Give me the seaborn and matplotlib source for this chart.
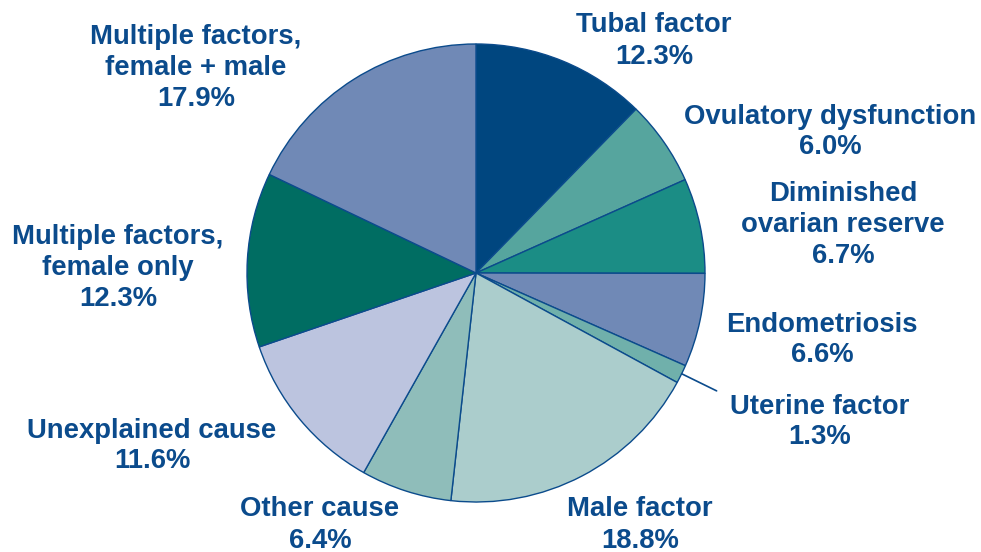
"""
Camembert des causes d'infertilite (pourcentages par diagnostic).
"""

import matplotlib

matplotlib.use("Agg")
import matplotlib.pyplot as plt
import numpy as np
import seaborn as sns

# -- Donnees -------------------------------------------------------------------
causes = [
    "Tubal factor",
    "Ovulatory dysfunction",
    "Diminished\novarian reserve",
    "Endometriosis",
    "Uterine factor",
    "Male factor",
    "Other cause",
    "Unexplained cause",
    "Multiple factors,\nfemale only",
    "Multiple factors,\nfemale + male",
]
percents = [12.3, 6.0, 6.7, 6.6, 1.3, 18.8, 6.4, 11.6, 12.3, 17.9]
colors = [
    "#00467f",
    "#56a59e",
    "#1b8d85",
    "#7089b6",
    "#70b0ab",
    "#abcdcc",
    "#8fbdba",
    "#bcc4df",
    "#006d62",
    "#7089b6",
]

# positions des etiquettes (pixels, origine en bas a gauche)
label_xy = [
    (654, 511),
    (830, 420),
    (843, 327),
    (822, 212),
    (820, 130),
    (640, 27),
    (320, 27),
    (152, 106),
    (118, 284),
    (196, 484),
]

TEXT_COLOR = "#0b4b8c"
EDGE_COLOR = "#0b4b8c"

sns.set_theme(style="white")
plt.rcParams["font.family"] = ["Liberation Sans", "DejaVu Sans"]

W, H = 981, 552
fig = plt.figure(figsize=(W / 100, H / 100), dpi=100)
ax = fig.add_axes([0, 0, 1, 1])

cx, cy, r = 476, 279, 229
ax.pie(
    percents,
    colors=colors,
    startangle=90,
    counterclock=False,
    center=(cx, cy),
    radius=r,
    frame=True,
    wedgeprops={"edgecolor": EDGE_COLOR, "linewidth": 1.0},
)
ax.set_xlim(0, W)
ax.set_ylim(0, H)
ax.set_aspect("equal")
ax.axis("off")

for name, pct, (x, y) in zip(causes, percents, label_xy):
    ax.text(
        x, y, f"{name}\n{pct:.1f}%",
        ha="center", va="center", fontsize=19.8, fontweight="bold",
        color=TEXT_COLOR, linespacing=1.25,
    )

# trait de rappel pour la petite part "Uterine factor"
cum = np.cumsum([0] + percents)
i = causes.index("Uterine factor")
mid = (cum[i] + cum[i + 1]) / 2 / 100 * 360
theta = np.deg2rad(90 - mid)
ax.plot(
    [cx + r * np.cos(theta), cx + 1.17 * r * np.cos(theta)],
    [cy + r * np.sin(theta), cy + 1.17 * r * np.sin(theta)],
    color=EDGE_COLOR, linewidth=1.2,
)

fig.savefig("out.png", dpi=100)
plt.close(fig)
